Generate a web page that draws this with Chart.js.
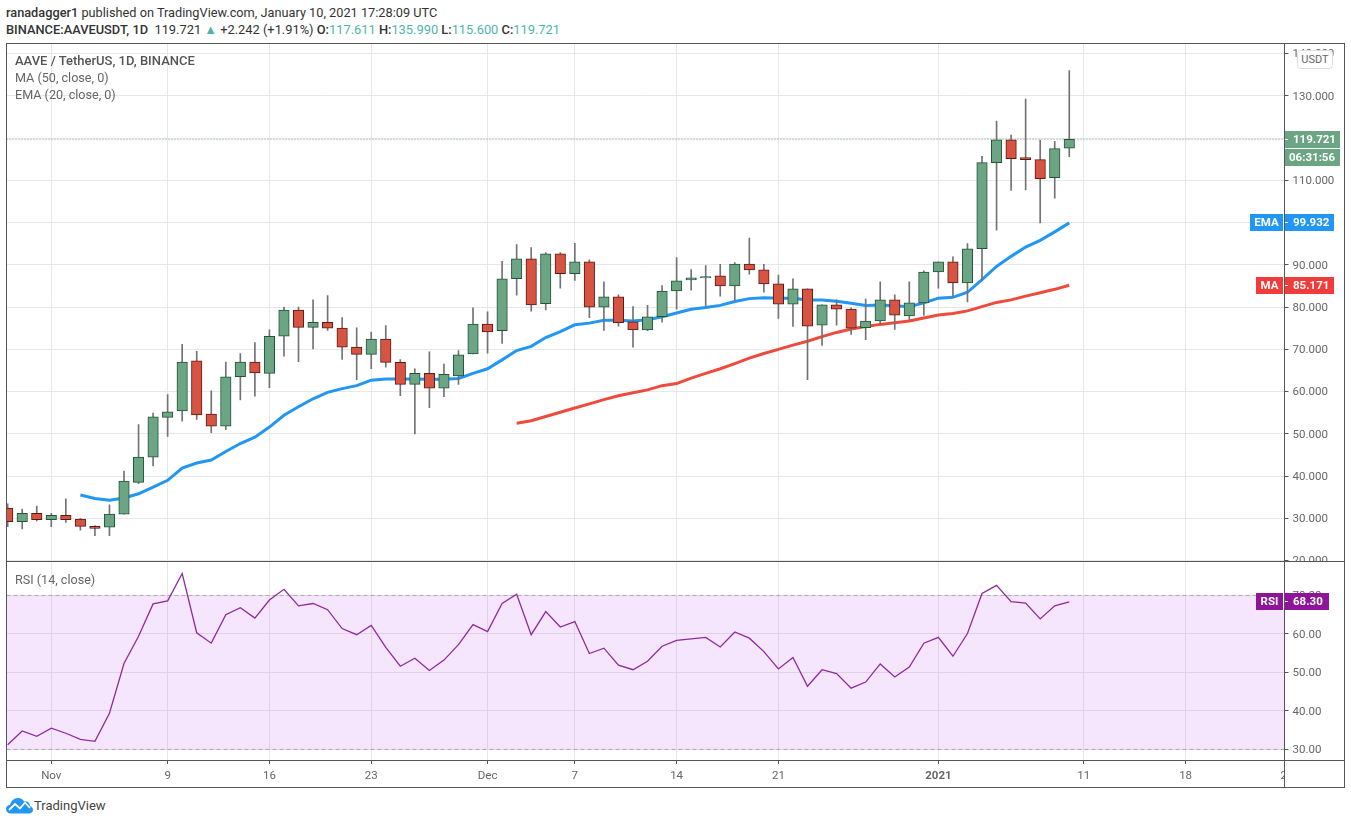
<!DOCTYPE html>
<html><head><meta charset="utf-8">
<script src="https://cdn.jsdelivr.net/npm/chart.js@4/dist/chart.umd.min.js"></script>
<style>
html,body{margin:0;padding:0;background:#fff;width:1351px;height:824px;overflow:hidden;font-family:Roboto,sans-serif;color:#444}
canvas{position:absolute;left:0}
.t{position:absolute;white-space:nowrap}
.g{color:#4db6ac}
.ln{position:absolute;background:#555}
</style></head><body>
<div class="t" style="left:6px;top:5px;font-size:12.75px;color:#333"><b style="font-weight:500">ranadagger1</b> published on TradingView.com, January 10, 2021 17:28:09 UTC</div>
<div class="t" style="left:6px;top:22px;font-size:12.85px;color:#333"><b style="font-weight:500">BINANCE:AAVEUSDT, 1D</b>&nbsp; 119.721 <span class="g">▲</span> +2.242 (+1.91%) <b style="font-weight:500">O:</b><span class="g">117.611</span> <b style="font-weight:500">H:</b><span class="g">135.990</span> <b style="font-weight:500">L:</b><span class="g">115.600</span> <b style="font-weight:500">C:</b><span class="g">119.721</span></div>
<canvas id="price" width="1351" height="519" style="top:43px"></canvas>
<canvas id="rsi" width="1351" height="225" style="top:562px"></canvas>
<div class="ln" style="left:6px;top:43px;width:1338px;height:1px"></div>
<div class="ln" style="left:6px;top:787px;width:1338px;height:1px"></div>
<div class="ln" style="left:6px;top:43px;width:1px;height:745px"></div>
<div class="ln" style="left:1344px;top:43px;width:1px;height:745px"></div>
<div class="ln" style="left:1284px;top:43px;width:1px;height:745px"></div>
<div class="ln" style="left:6px;top:561px;width:1338px;height:1px"></div>
<div class="ln" style="left:6px;top:760px;width:1338px;height:1px"></div>
<div class="t" style="left:15px;top:53px;font-size:13px;font-weight:500;color:#555">AAVE / TetherUS, 1D, BINANCE</div>
<div class="t" style="left:15px;top:70px;font-size:12.6px;color:#666">MA (50, close, 0)</div>
<div class="t" style="left:15px;top:87px;font-size:12.6px;color:#666">EMA (20, close, 0)</div>
<div class="t" style="left:15px;top:572px;font-size:12.6px;color:#666">RSI (14, close)</div>
<div class="t" style="left:1297px;top:50px;width:34px;height:17px;border:1px solid #ddd;border-radius:4px;background:#fff;font-size:11px;line-height:17px;text-align:center;color:#666">USDT</div>
<div class="t" style="left:1274px;top:769px;width:10px;height:13px;overflow:hidden;font-size:11.5px;line-height:13px;color:#666;text-align:left"><span style="margin-left:6.5px">25</span></div>
<svg style="position:absolute;left:6px;top:797px" width="27" height="17" viewBox="0 0 27 17">
<path d="M5 16.5C2 16.5 0 14.5 0 12C0 9.5 2 8 4 8C5 4 8 1 12 1C15 1 17 2.5 18 4.5C19 4 20 4 21 4.5C23 5 24 7 24 9C25.500 9.500 27 11 27 13C27 15 25 16.500 23 16.500Z" fill="#2196f3"/>
<path d="M3 13L9 7L14 11.500L19 5.500L24 11" fill="none" stroke="#fff" stroke-width="1.800"/>
</svg>
<div class="t" style="left:34px;top:798px;font-size:13px;color:#444">TradingView</div>
<script>
const open  = [32.4,29.2,31.2,29.7,30.7,29.8,28.1,27.9,31.0,38.5,44.5,53.9,55.4,67.3,54.7,51.8,63.5,67.0,64.3,73.1,79.3,75.2,76.4,75.0,70.5,68.8,72.4,66.9,61.7,64.3,60.8,63.7,68.9,76.0,74.4,86.7,91.4,80.8,92.6,87.9,90.7,80.0,82.4,76.5,74.6,77.7,83.8,86.4,86.9,87.4,85.0,90.2,88.8,85.5,80.7,84.3,75.7,80.5,79.5,75.1,76.7,81.7,77.9,81.0,88.3,90.7,85.7,93.8,114.2,119.6,115.4,114.9,110.6,117.611];
const high  = [33.4,32.2,32.9,31.2,34.6,30.0,28.3,33.2,41.2,52.2,54.9,59.3,71.2,69.5,60.2,67.0,69.0,71.6,74.6,80.0,80.0,81.7,82.7,77.5,75.1,74.1,75.6,67.6,65.4,69.4,66.5,69.7,79.8,78.9,90.8,94.8,94.1,92.9,92.9,95.1,91.2,86.0,82.9,80.1,80.4,85.1,91.7,88.9,89.8,90.1,90.5,96.3,90.1,87.6,86.7,84.3,80.5,81.7,79.8,81.9,86.0,82.9,86.0,88.6,90.7,91.9,95.0,115.7,124.0,120.7,129.2,119.5,119.2,135.99];
const low   = [28.0,27.5,29.4,28.0,29.0,27.2,25.9,25.9,31.0,38.2,42.4,49.4,53.0,53.4,50.3,51.0,58.0,58.9,60.9,68.4,67.1,70.1,74.5,67.6,62.8,65.4,65.8,59.0,50.0,56.2,58.8,61.7,68.9,69.1,71.4,82.8,79.0,79.3,84.5,86.3,77.5,74.5,75.5,70.5,74.4,76.4,79.5,84.0,80.2,82.6,81.6,87.8,83.5,77.3,75.4,62.8,70.9,75.7,73.5,72.3,76.0,74.7,76.9,78.0,84.5,82.4,81.2,86.3,98.2,107.6,107.7,99.9,105.8,115.6];
const close = [29.2,31.2,29.7,30.7,29.7,28.1,27.6,31.0,38.8,44.5,54.0,55.2,67.0,54.5,51.8,63.5,67.0,64.4,73.1,79.3,75.2,76.4,75.0,70.5,68.8,72.4,66.9,61.7,64.3,60.8,64.1,68.7,76.0,74.1,86.7,91.4,80.5,92.6,87.9,90.7,80.0,82.4,76.3,74.6,77.7,83.8,86.2,86.9,87.2,85.0,90.2,88.8,85.5,80.7,84.3,75.5,80.5,79.5,75.0,76.7,81.7,78.1,81.0,88.3,90.7,85.7,93.8,114.2,119.6,115.1,114.9,110.4,117.5,119.721];
const ema   = [null,null,null,null,null,35.5,34.7,34.3,34.8,35.8,37.4,39.0,41.9,43.1,43.8,45.8,47.7,49.2,51.6,54.4,56.4,58.3,59.8,60.7,61.4,62.7,63.0,63.0,63.0,62.9,62.9,63.1,64.3,65.4,67.5,69.7,70.7,72.8,74.2,75.8,76.2,76.9,76.9,76.7,77.0,77.7,78.6,79.5,79.9,80.4,81.3,82.0,82.2,82.1,82.1,81.7,81.7,81.4,80.9,80.4,80.5,80.3,80.1,81.0,82.1,82.3,83.5,86.5,89.6,92.0,94.2,95.8,97.8,99.932];
const ma    = [null,null,null,null,null,null,null,null,null,null,null,null,null,null,null,null,null,null,null,null,null,null,null,null,null,null,null,null,null,null,null,null,null,null,null,52.5,53.1,54.1,55.1,56.1,57.1,58.1,59.0,59.7,60.4,61.4,61.9,63.2,64.3,65.4,66.6,67.9,69.0,70.0,71.0,71.9,73.0,74.0,74.8,75.4,75.9,76.3,76.7,77.4,78.1,78.5,79.1,80.1,81.1,81.7,82.6,83.4,84.2,85.171];
const rsi   = [31.2,34.8,33.4,35.5,34.2,32.6,32.1,39.4,52.3,59.4,67.8,68.6,75.7,60.3,57.6,65.0,66.8,64.1,68.8,71.6,67.3,67.9,66.3,61.4,59.8,62.2,56.5,51.6,53.7,50.5,53.2,57.2,62.4,60.6,67.9,70.3,59.8,65.8,61.8,63.2,54.9,56.3,51.9,50.7,52.9,56.8,58.3,58.7,59.1,56.6,60.5,58.9,55.4,50.9,53.9,46.4,50.7,49.7,45.9,47.5,52.2,48.8,51.4,57.6,59.1,54.2,60.1,70.5,72.6,68.4,68.0,63.9,67.3,68.3];
const tickDays   = [3,11,18,25,33,39,46,53,64,74,81];
const tickLabels = ['Nov','9','16','23','Dec','7','14','21','2021','11','18'];
const priceTicks = [20,30,40,50,60,70,80,90,100,110,120,130,140];
const rsiTicks   = [30,40,50,60,70];
const lastPrice = 119.721, lastEma = 99.932, lastMa = 85.171, lastRsi = 68.30;

const F = 'Roboto, sans-serif';
const GRID = '#e8e8e8', AXIS = '#555', TXT = '#666';
const XMIN = -0.08, XMAX = 87.80;
const idx = open.map((_, i) => i);
const pts = a => idx.map(i => ({x: i, y: a[i]}));
const up = i => close[i] >= open[i];

function xScale(showLabels) {
  return {
    type: 'linear', min: XMIN, max: XMAX, bounds: 'data', offset: false,
    afterBuildTicks: s => { s.ticks = tickDays.map(v => ({value: v})); },
    afterFit: s => { s.height = showLabels ? 27 : 0; s.paddingLeft = 0; s.paddingRight = 0; },
    border: {display: false},
    grid: {offset: false, color: GRID, lineWidth: 1, drawTicks: showLabels, tickLength: 4, tickColor: AXIS},
    ticks: {
      display: showLabels, autoSkip: false, maxRotation: 0, padding: 5, color: TXT,
      font: c => ({family: F, size: 11.5, weight: tickLabels[c.index] === '2021' ? '700' : '400'}),
      callback: (v, i) => tickLabels[i]
    }
  };
}
function yScale(min, max, vals, dec) {
  return {
    type: 'linear', position: 'right', min, max, bounds: 'data',
    afterBuildTicks: s => { s.ticks = vals.map(v => ({value: v})); },
    afterFit: s => { s.width = 66.5; s.paddingTop = 0; s.paddingBottom = 0; },
    border: {display: false},
    grid: {color: GRID, lineWidth: 1, tickLength: 4, tickColor: AXIS},
    ticks: {autoSkip: false, padding: 4, labelOffset: 1, color: TXT, font: {family: F, size: 11.5},
      callback: v => Number(v).toFixed(dec)}
  };
}
function tag(chart, yId, value, left, text, color, x0, x1) {
  const c = chart.ctx, y = Math.floor(chart.scales[yId].getPixelForValue(value));
  c.save();
  c.fillStyle = color; c.fillRect(x0, y - 8, x1 - x0, 17);
  c.fillStyle = '#fff'; c.textBaseline = 'middle'; c.font = '700 11.5px ' + F;
  c.fillRect(1285, y, 3, 1);
  if (left) {
    c.fillRect(1283, y - 8, 1, 17);
    c.textAlign = 'center'; c.fillText(left, (x0 + 1283) / 2, y + 1);
  }
  c.textAlign = 'left'; c.fillText(text, 1293, y + 1);
  c.restore();
}
new Chart(document.getElementById('price'), {
  data: {datasets: [
    {type: 'bar', grouped: false, order: 2, data: idx.map(i => ({x: i, y: [open[i], close[i]]})),
     barThickness: 10.5, borderWidth: 1, borderSkipped: false,
     backgroundColor: c => up(c.dataIndex) ? '#6ba583' : '#d75442',
     borderColor: c => up(c.dataIndex) ? '#225437' : '#5b1a13'},
    {type: 'bar', grouped: false, order: 3, data: idx.map(i => ({x: i, y: [low[i], high[i]]})),
     barThickness: 1, backgroundColor: '#737375'},
    {type: 'line', order: 4, data: pts(ema), borderColor: '#2196f3', borderWidth: 3, pointRadius: 0, spanGaps: false},
    {type: 'line', order: 5, data: pts(ma), borderColor: '#ef4a3c', borderWidth: 3, pointRadius: 0, spanGaps: false},
    {type: 'line', order: 6, data: [{x: XMIN, y: lastPrice}, {x: XMAX, y: lastPrice}], borderColor: '#6ba583',
     borderWidth: 1, borderDash: [1, 2], pointRadius: 0}
  ]},
  options: {
    responsive: false, animation: false, devicePixelRatio: 1,
    layout: {padding: {left: 6.5, right: 0, top: 0, bottom: 0.5}},
    plugins: {legend: {display: false}, tooltip: {enabled: false}},
    scales: {x: xScale(false), y: yScale(19.78, 142.5, priceTicks, 3)}
  },
  plugins: [{id: 'tags', afterDraw(ch) {
    const c = ch.ctx, y = Math.floor(ch.scales.y.getPixelForValue(lastPrice));
    tag(ch, 'y', lastPrice, '', lastPrice.toFixed(3), '#6ba583', 1284, 1340);
    c.save(); c.fillStyle = '#6ba583'; c.fillRect(1285, y + 10, 55, 17);
    c.fillStyle = '#fff'; c.font = '700 11.5px ' + F; c.textAlign = 'left'; c.textBaseline = 'middle';
    c.fillText('06:31:56', 1289, y + 19); c.restore();
    tag(ch, 'y', lastEma, 'EMA', lastEma.toFixed(3), '#2196f3', 1250, 1334);
    tag(ch, 'y', lastMa, 'MA', lastMa.toFixed(3), '#f23b3b', 1256, 1334);
  }}]
});
new Chart(document.getElementById('rsi'), {
  data: {datasets: [
    {type: 'line', data: pts(rsi), borderColor: '#8e2a9e', borderWidth: 1.3, pointRadius: 0}
  ]},
  options: {
    responsive: false, animation: false, devicePixelRatio: 1,
    layout: {padding: {left: 6.5, right: 0, top: 0, bottom: 0}},
    plugins: {legend: {display: false}, tooltip: {enabled: false}},
    scales: {x: xScale(true), y: yScale(27.25, 78.68, rsiTicks, 2)}
  },
  plugins: [{id: 'band', beforeDatasetsDraw(ch) {
    const c = ch.ctx, a = ch.chartArea, s = ch.scales.y, y70 = s.getPixelForValue(70), y30 = s.getPixelForValue(30);
    c.save(); c.fillStyle = 'rgba(165,10,235,0.1)'; c.fillRect(a.left, y70, a.right - a.left, y30 - y70);
    c.strokeStyle = '#b0a4b8'; c.lineWidth = 1; c.setLineDash([4, 3]);
    [y70, y30].forEach(y => { c.beginPath(); c.moveTo(a.left, y); c.lineTo(a.right, y); c.stroke(); });
    c.restore();
  }, afterDraw(ch) {
    tag(ch, 'y', lastRsi, 'RSI', lastRsi.toFixed(2), '#8e1599', 1256, 1329);
  }}]
});
</script>
</body></html>
